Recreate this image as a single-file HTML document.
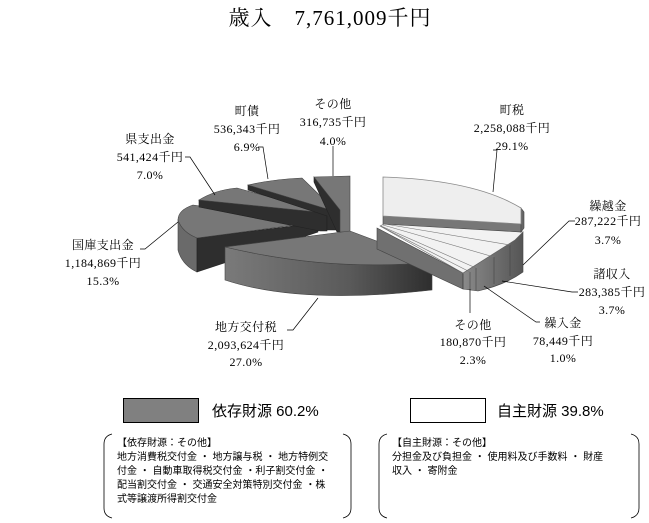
<!DOCTYPE html>
<html><head><meta charset="utf-8"><style>
body{margin:0;background:#fff;width:649px;height:523px;overflow:hidden}
svg{display:block}
.t{font-family:"Liberation Serif","Noto Serif CJK JP",serif;font-size:12px;letter-spacing:0.4px;fill:#000;text-anchor:middle}
.s{font-family:"Liberation Sans","Noto Sans CJK JP",sans-serif;fill:#000}
</style></head><body>
<svg width="649" height="523" viewBox="0 0 649 523">
<defs>
<linearGradient id="g1" x1="0" x2="1" y1="0" y2="0"><stop offset="0" stop-color="#7a7a7a"/><stop offset="0.6" stop-color="#5a5a5a"/><stop offset="1" stop-color="#2e2e2e"/></linearGradient>
<linearGradient id="g2" x1="0" x2="1"><stop offset="0" stop-color="#8a8a8a"/><stop offset="1" stop-color="#555"/></linearGradient>
</defs>
<text x="330" y="25" class="t" style="font-size:21px;letter-spacing:1px">歳入　7,761,009千円</text>

<!-- 国庫支出金 -->
<path d="M178,220 L178,250 Q182,265 197,272 L197,238 Z" fill="#6a6a6a" stroke="#444" stroke-width="0.6"/>
<path d="M197,238 L318,223 L318,232 L197,272 Z" fill="#2e2e2e" stroke="#222" stroke-width="0.6"/>
<path d="M178,220 Q178,210 193,205 L318,222 L197,238 Q182,232 178,220 Z" fill="#777" stroke="#444" stroke-width="0.6"/>
<!-- 県支出金 -->
<path d="M199,200 L327,213 L327,231 L320,231 L199,207 Z" fill="#2e2e2e" stroke="#222" stroke-width="0.6"/>
<path d="M199,200 Q215,190 237,188 L327,213 Z" fill="#777" stroke="#444" stroke-width="0.6"/>
<!-- 町債 -->
<path d="M248,185 L337,212 L337,230 L327,230 L327,216 L248,190 Z" fill="#2e2e2e" stroke="#222" stroke-width="0.6"/>
<path d="M248,185 Q275,179 302,178 L337,212 Z" fill="#777" stroke="#444" stroke-width="0.6"/>
<!-- その他 -->
<path d="M314,177 L340,210 L340,232 L337,232 L314,182 Z" fill="#2e2e2e" stroke="#222" stroke-width="0.6"/>
<path d="M314,177 L350,176 L350,232 L340,232 L340,210 Z" fill="#777" stroke="#444" stroke-width="0.6"/>
<!-- 地方交付税 -->
<path d="M225,247 L225,280 Q300,305 432,290 L432,262 Q330,272 225,247 Z" fill="url(#g1)" stroke="#444" stroke-width="0.6"/>
<path d="M225,247 L350,231 L432,262 Q330,272 225,247 Z" fill="#777" stroke="#444" stroke-width="0.6"/>

<!-- 自主 group -->
<path d="M377,228 L463,273 L463,289 L377,249 Z" fill="#707070" stroke="#444" stroke-width="0.6"/>
<path d="M463,273 L515,240 L523,232 L523,272 Q505,285 478,291 L463,289 Z" fill="url(#g2)" stroke="#444" stroke-width="0.6"/>
<path d="M463,274 L463,289 M470,272 L470,290 M476,268 L476,290 M494,257 L494,284 M510,245 L510,276" stroke="#444" stroke-width="0.6"/>
<path d="M380,226 L463,273 L515,240 L523,232 L386,223 Z" fill="#f2f2f2" stroke="#666" stroke-width="0.6"/>
<path d="M380,226 L470,272 M381,226 L476,268 M383,225 L494,257 M385,224 L510,245" stroke="#777" stroke-width="0.6"/>
<!-- 町税 -->
<path d="M383,216 L521,224 L521,232 L383,224 Z" fill="#777" stroke="#444" stroke-width="0.6"/>
<path d="M521,208 L524,212 L524,228 L521,232 Z" fill="#666" stroke="#444" stroke-width="0.6"/>
<path d="M383,177 Q475,180 521,208 L521,224 L383,216 Z" fill="#eeeeee" stroke="#888" stroke-width="0.8"/>

<!-- leaders -->
<g stroke="#000" stroke-width="0.7" fill="none">
<path d="M333,146 L333,176"/>
<path d="M258,147 L263,147 L268,179"/>
<path d="M185,157 L190,157 L215,195"/>
<path d="M140,249 L145,249 L178,222"/>
<path d="M287,330 L293,330 L318,298"/>
<path d="M493,150 L497,150 L493,192"/>
<path d="M575,221 L569,221 L523,265"/>
<path d="M578,292 L572,292 L502,281"/>
<path d="M540,322 L536,322 L484,286"/>
<path d="M470,313 L470,289"/>
</g>

<!-- labels -->
<g class="t">
<text x="333" y="108">その他</text><text x="333" y="126">316,735千円</text><text x="333" y="145">4.0%</text>
<text x="247" y="115">町債</text><text x="247" y="133">536,343千円</text><text x="247" y="151">6.9%</text>
<text x="150" y="143">県支出金</text><text x="150" y="161">541,424千円</text><text x="150" y="179">7.0%</text>
<text x="103" y="249">国庫支出金</text><text x="103" y="267">1,184,869千円</text><text x="103" y="285">15.3%</text>
<text x="246" y="331">地方交付税</text><text x="246" y="349">2,093,624千円</text><text x="246" y="366">27.0%</text>
<text x="512" y="114">町税</text><text x="512" y="132">2,258,088千円</text><text x="512" y="150">29.1%</text>
<text x="608" y="210">繰越金</text><text x="608" y="225">287,222千円</text><text x="608" y="244">3.7%</text>
<text x="612" y="278">諸収入</text><text x="612" y="296">283,385千円</text><text x="612" y="314">3.7%</text>
<text x="563" y="327">繰入金</text><text x="563" y="345">78,449千円</text><text x="563" y="362">1.0%</text>
<text x="473" y="329">その他</text><text x="473" y="346">180,870千円</text><text x="473" y="364">2.3%</text>
</g>

<!-- legend -->
<rect x="123.5" y="398.5" width="75" height="24" fill="#808080" stroke="#000"/>
<text x="212" y="416" class="s" style="font-size:15px">依存財源  60.2%</text>
<rect x="410.5" y="398.5" width="75" height="24" fill="#fff" stroke="#000"/>
<text x="497" y="416" class="s" style="font-size:15px">自主財源  39.8%</text>

<!-- brackets -->
<g stroke="#000" stroke-width="0.8" fill="none">
<path d="M112,434 Q104,436 104,444 L104,508 Q104,516 112,518"/>
<path d="M343,434 Q351,436 351,444 L351,508 Q351,516 343,518"/>
<path d="M387,434 Q379,436 379,444 L379,508 Q379,516 387,518"/>
<path d="M631,434 Q639,436 639,444 L639,508 Q639,516 631,518"/>
</g>
<g class="s" style="font-size:10px">
<text x="117" y="446">【依存財源：その他】</text>
<text x="117" y="460">地方消費税交付金 ・ 地方譲与税 ・ 地方特例交</text>
<text x="117" y="474">付金 ・ 自動車取得税交付金 ・利子割交付金 ・</text>
<text x="117" y="488">配当割交付金 ・ 交通安全対策特別交付金 ・株</text>
<text x="117" y="502">式等譲渡所得割交付金</text>
<text x="392" y="446">【自主財源：その他】</text>
<text x="392" y="460">分担金及び負担金 ・ 使用料及び手数料 ・ 財産</text>
<text x="392" y="474">収入 ・ 寄附金</text>
</g>
</svg>
</body></html>
